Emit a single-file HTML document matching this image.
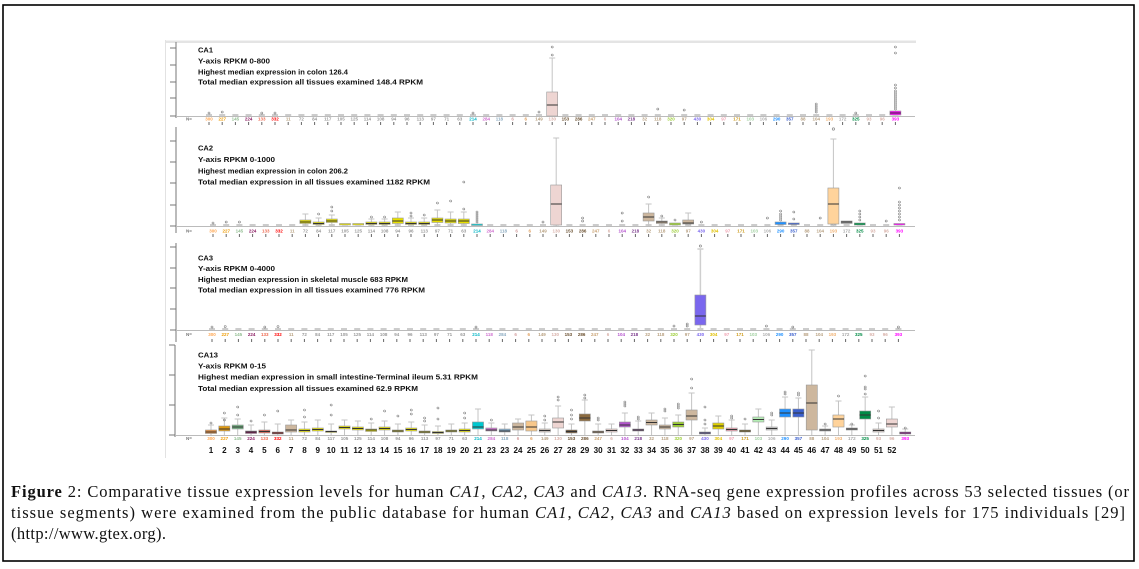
<!DOCTYPE html>
<html><head><meta charset="utf-8">
<style>
html,body{margin:0;padding:0;background:#fff;width:1139px;height:569px;overflow:hidden}
svg{display:block}
.t{font-family:"Liberation Sans",sans-serif;font-weight:bold;font-size:7.5px;fill:#111}
.n{font-family:"Liberation Sans",sans-serif;font-size:4.5px;text-anchor:middle;font-weight:bold}
.num{font-family:"Liberation Sans",sans-serif;font-weight:bold;font-size:8px;text-anchor:middle;fill:#111}
.cap{font-family:"Liberation Serif",serif;font-size:16.5px;fill:#111}
.w{stroke:#c4c4c4;stroke-width:1;fill:none}
.b{stroke:#999;stroke-width:0.6}
.m{stroke:#333;stroke-width:1}
.o{fill:none;stroke:#777;stroke-width:0.6}
.ax{stroke:#777;stroke-width:1;fill:none}
</style></head><body>
<svg width="1139" height="569" viewBox="0 0 1139 569" xmlns="http://www.w3.org/2000/svg">
<rect x="0" y="0" width="1139" height="569" fill="#fff"/>
<rect x="3" y="5" width="1131" height="556" fill="none" stroke="#000" stroke-width="1.6"/>

<!-- figure frame bits -->
<rect x="165" y="40.5" width="751" height="2.5" fill="#e4e4e4"/>
<line x1="165.5" y1="40" x2="165.5" y2="458" stroke="#e2e2e2" stroke-width="1"/>

<!-- ================= PANEL 1 CA1 ================= -->
<path class="ax" d="M176 42V118M170 48H176M170 65H176M170 82H176M170 98H176M170 116H176"/>
<line x1="176" y1="116.5" x2="915" y2="116.5" stroke="#bbb"/>
<line x1="206" y1="115" x2="900" y2="115" stroke="#999" stroke-dasharray="6 7.2"/>
<line x1="208.5" y1="123.5" x2="900" y2="123.5" stroke="#666" stroke-width="3" stroke-dasharray="1 12.2"/>
<text class="t" x="198" y="52.5" textLength="15" lengthAdjust="spacingAndGlyphs">CA1</text>
<text class="t" x="198" y="63.3" textLength="72" lengthAdjust="spacingAndGlyphs">Y-axis RPKM 0-800</text>
<text class="t" x="198" y="74.3" textLength="150" lengthAdjust="spacingAndGlyphs">Highest median expression in colon 126.4</text>
<text class="t" x="198" y="84.5" textLength="225" lengthAdjust="spacingAndGlyphs">Total median expression all tissues examined 148.4 RPKM</text>
<text class="n" x="189" y="120.5" fill="#777">N=</text>
<g transform="translate(209 0)">
<g transform="translate(343.2 0)"><path class="w" d="M0 58V116M-3 58H3"/><rect class="b" x="-5.5" y="92" width="11" height="24" fill="#EED5D2"/><path class="m" d="M-5.5 105H5.5" stroke="#7a5a50"/><circle class="o" cy="47" r="1"/><circle class="o" cy="55" r="1"/></g>
<g transform="translate(686.4 0)"><rect class="b" x="-5.5" y="111" width="11" height="4" fill="#FF00FF"/><path class="m" d="M-5.5 113H5.5"/>
<circle class="o" cy="47" r="1"/><circle class="o" cy="53" r="1"/><circle class="o" cy="85" r="1"/><circle class="o" cy="88" r="1"/><circle class="o" cy="91" r="1"/><circle class="o" cy="93" r="1"/><circle class="o" cy="95" r="1"/><circle class="o" cy="97" r="1"/><circle class="o" cy="99" r="1"/><circle class="o" cy="101" r="1"/><circle class="o" cy="103" r="1"/><circle class="o" cy="105" r="1"/><circle class="o" cy="107" r="1"/><circle class="o" cy="109" r="1"/></g>
<g transform="translate(607.2 0)"><circle class="o" cy="104" r="1"/><circle class="o" cy="106" r="1"/><circle class="o" cy="108" r="1"/><circle class="o" cy="110" r="1"/><circle class="o" cy="112" r="1"/></g>
<circle class="o" cx="0" cy="113" r="1"/><circle class="o" cx="13.2" cy="112" r="1"/><circle class="o" cx="52.8" cy="113" r="1"/><circle class="o" cx="66" cy="113" r="1"/><circle class="o" cx="264" cy="113" r="1"/><circle class="o" cx="330" cy="112" r="1"/><circle class="o" cx="448.8" cy="109" r="1"/><circle class="o" cx="475.2" cy="110" r="1"/><circle class="o" cx="646.8" cy="113" r="1"/>
<text class="n" y="120.5"><tspan x="0" fill="#FFA54F">300</tspan><tspan x="13.2" fill="#EE9A00">227</tspan><tspan x="26.4" fill="#8FBC8F">145</tspan><tspan x="39.6" fill="#8B1C62">224</tspan><tspan x="52.8" fill="#EE6A50">133</tspan><tspan x="66" fill="#FF0000">332</tspan><tspan x="79.2" fill="#B8A080">11</tspan><tspan x="92.4" fill="#999">72</tspan><tspan x="105.6" fill="#999">84</tspan><tspan x="118.8" fill="#999">117</tspan><tspan x="132" fill="#999">105</tspan><tspan x="145.2" fill="#999">125</tspan><tspan x="158.4" fill="#999">114</tspan><tspan x="171.6" fill="#999">108</tspan><tspan x="184.8" fill="#999">94</tspan><tspan x="198" fill="#999">96</tspan><tspan x="211.2" fill="#999">113</tspan><tspan x="224.4" fill="#999">97</tspan><tspan x="237.6" fill="#999">71</tspan><tspan x="250.8" fill="#999">63</tspan><tspan x="264" fill="#00B5C5">214</tspan><tspan x="277.2" fill="#D070D0">284</tspan><tspan x="290.4" fill="#8AAAC0">118</tspan><tspan x="303.6" fill="#D4A0A0">6</tspan><tspan x="316.8" fill="#E0A060">6</tspan><tspan x="330" fill="#B8A080">149</tspan><tspan x="343.2" fill="#D8B0A8">130</tspan><tspan x="356.4" fill="#6B5030">153</tspan><tspan x="369.6" fill="#6B5030">286</tspan><tspan x="382.8" fill="#C8A070">247</tspan><tspan x="396" fill="#D8B0A8">6</tspan><tspan x="409.2" fill="#B452CD">104</tspan><tspan x="422.4" fill="#7A378B">218</tspan><tspan x="435.6" fill="#B8A080">32</tspan><tspan x="448.8" fill="#B8A080">118</tspan><tspan x="462" fill="#9ACD32">320</tspan><tspan x="475.2" fill="#B8A080">97</tspan><tspan x="488.4" fill="#7A67EE">430</tspan><tspan x="501.6" fill="#E0C000">304</tspan><tspan x="514.8" fill="#F0A0B0">97</tspan><tspan x="528" fill="#CD9B1D">171</tspan><tspan x="541.2" fill="#A0D0A0">103</tspan><tspan x="554.4" fill="#B0B0B0">106</tspan><tspan x="567.6" fill="#1E90FF">290</tspan><tspan x="580.8" fill="#3A5FCD">357</tspan><tspan x="594" fill="#B8A080">88</tspan><tspan x="607.2" fill="#B8A080">104</tspan><tspan x="620.4" fill="#F0B070">193</tspan><tspan x="633.6" fill="#A6A6A6">172</tspan><tspan x="646.8" fill="#008B45">325</tspan><tspan x="660" fill="#D8B0A8">93</tspan><tspan x="673.2" fill="#D8B0A8">96</tspan><tspan x="686.4" fill="#FF00FF">393</tspan></text>
</g>

<!-- ================= PANEL 2 CA2 ================= -->
<path class="ax" d="M176 127V233M170 141H176M170 162H176M170 183H176M170 205H176M170 226H176"/>
<line x1="176" y1="226.5" x2="915" y2="226.5" stroke="#bbb"/>
<line x1="210" y1="225" x2="904" y2="225" stroke="#999" stroke-dasharray="6 7.2"/>
<line x1="212.5" y1="235.5" x2="904" y2="235.5" stroke="#666" stroke-width="3" stroke-dasharray="1 12.2"/>
<text class="t" x="198" y="150.5" textLength="15" lengthAdjust="spacingAndGlyphs">CA2</text>
<text class="t" x="198" y="162" textLength="77" lengthAdjust="spacingAndGlyphs">Y-axis RPKM 0-1000</text>
<text class="t" x="198" y="173.5" textLength="150" lengthAdjust="spacingAndGlyphs">Highest median expression in colon 206.2</text>
<text class="t" x="198" y="184.5" textLength="232" lengthAdjust="spacingAndGlyphs">Total median expression in all tissues examined 1182 RPKM</text>
<text class="n" x="189" y="232.5" fill="#777">N=</text>
<g transform="translate(213 0)">
<g transform="translate(92.4 0)"><path class="w" d="M0 214V226M-3 214H3"/><rect class="b" x="-5.5" y="220" width="11" height="3.5" fill="#E8E000"/><path class="m" d="M-5.5 222H5.5"/></g>
<g transform="translate(105.6 0)"><path class="w" d="M0 218V226M-3 218H3"/><rect class="b" x="-5.5" y="222" width="11" height="2.5" fill="#E8E000"/><path class="m" d="M-5.5 223.5H5.5"/><circle class="o" cy="214" r="1"/></g>
<g transform="translate(118.8 0)"><path class="w" d="M0 215V226M-3 215H3"/><rect class="b" x="-5.5" y="219" width="11" height="3.5" fill="#E8E000"/><path class="m" d="M-5.5 221H5.5"/><circle class="o" cy="211" r="1"/><circle class="o" cy="207" r="1"/></g>
<g transform="translate(132 0)"><rect class="b" x="-5.5" y="223.5" width="11" height="1.5" fill="#E8E000"/></g>
<g transform="translate(145.2 0)"><rect class="b" x="-5.5" y="223.5" width="11" height="1.5" fill="#E8E000"/></g>
<g transform="translate(158.4 0)"><path class="w" d="M0 219V226M-3 219H3"/><rect class="b" x="-5.5" y="222" width="11" height="2.5" fill="#E8E000"/><path class="m" d="M-5.5 223.5H5.5"/><circle class="o" cy="217" r="1"/></g>
<g transform="translate(171.6 0)"><path class="w" d="M0 219V226M-3 219H3"/><rect class="b" x="-5.5" y="222" width="11" height="2.5" fill="#E8E000"/><path class="m" d="M-5.5 223.5H5.5"/><circle class="o" cy="217" r="1"/></g>
<g transform="translate(184.8 0)"><path class="w" d="M0 212V226M-3 212H3"/><rect class="b" x="-5.5" y="218" width="11" height="5.5" fill="#E8E000"/><path class="m" d="M-5.5 221H5.5"/></g>
<g transform="translate(198 0)"><path class="w" d="M0 218V226M-3 218H3"/><rect class="b" x="-5.5" y="222" width="11" height="2.5" fill="#E8E000"/><path class="m" d="M-5.5 223.5H5.5"/><circle class="o" cy="213" r="1"/><circle class="o" cy="216" r="1"/></g>
<g transform="translate(211.2 0)"><path class="w" d="M0 218V226M-3 218H3"/><rect class="b" x="-5.5" y="222" width="11" height="2.5" fill="#E8E000"/><path class="m" d="M-5.5 223.5H5.5"/><circle class="o" cy="215" r="1"/></g>
<g transform="translate(224.4 0)"><path class="w" d="M0 210V226M-3 210H3"/><rect class="b" x="-5.5" y="218" width="11" height="4.5" fill="#E8E000"/><path class="m" d="M-5.5 220H5.5"/><circle class="o" cy="203" r="1"/></g>
<g transform="translate(237.6 0)"><path class="w" d="M0 212V226M-3 212H3"/><rect class="b" x="-5.5" y="219" width="11" height="4" fill="#E8E000"/><path class="m" d="M-5.5 221H5.5"/><circle class="o" cy="201" r="1"/></g>
<g transform="translate(250.8 0)"><path class="w" d="M0 212V226M-3 212H3"/><rect class="b" x="-5.5" y="219" width="11" height="4.5" fill="#E8E000"/><path class="m" d="M-5.5 221H5.5"/><circle class="o" cy="209" r="1"/><circle class="o" cy="182" r="1"/></g>
<g transform="translate(264 0)"><rect class="b" x="-5.5" y="224" width="11" height="1.5" fill="#00C8D0"/><circle class="o" cy="212" r="1"/><circle class="o" cy="214" r="1"/><circle class="o" cy="216" r="1"/><circle class="o" cy="218" r="1"/><circle class="o" cy="220" r="1"/><circle class="o" cy="222" r="1"/></g>
<g transform="translate(343.2 0)"><path class="w" d="M0 138V226M-3 138H3"/><rect class="b" x="-5.5" y="185" width="11" height="40" fill="#EED5D2"/><path class="m" d="M-5.5 204H5.5" stroke="#7a5a50"/></g>
<g transform="translate(435.6 0)"><path class="w" d="M0 204V226M-3 204H3"/><rect class="b" x="-5.5" y="213" width="11" height="8" fill="#CDB79E"/><path class="m" d="M-5.5 217H5.5"/><circle class="o" cy="197" r="1"/></g>
<g transform="translate(448.8 0)"><path class="w" d="M0 218V226M-3 218H3"/><rect class="b" x="-5.5" y="221" width="11" height="2.5" fill="#CDB79E"/><path class="m" d="M-5.5 222H5.5"/><circle class="o" cy="216" r="1"/></g>
<g transform="translate(462 0)"><rect class="b" x="-5.5" y="223" width="11" height="2" fill="#9ACD32"/><circle class="o" cy="220" r="1"/></g>
<g transform="translate(475.2 0)"><path class="w" d="M0 213V226M-3 213H3"/><rect class="b" x="-5.5" y="220" width="11" height="4" fill="#CDB79E"/><path class="m" d="M-5.5 223H5.5"/></g>
<g transform="translate(567.6 0)"><rect class="b" x="-5.5" y="222" width="11" height="2.5" fill="#1E90FF"/><circle class="o" cy="211" r="1"/><circle class="o" cy="214" r="1"/><circle class="o" cy="216" r="1"/><circle class="o" cy="218" r="1"/><circle class="o" cy="220" r="1"/></g>
<g transform="translate(580.8 0)"><rect class="b" x="-5.5" y="223" width="11" height="1.5" fill="#3A5FCD"/><circle class="o" cy="212" r="1"/><circle class="o" cy="219" r="1"/></g>
<g transform="translate(620.4 0)"><path class="w" d="M0 139V226M-3 139H3"/><rect class="b" x="-5.5" y="188" width="11" height="36" fill="#FFD39B"/><path class="m" d="M-5.5 204H5.5"/><circle class="o" cy="129" r="1.2"/></g>
<g transform="translate(633.6 0)"><rect class="b" x="-5.5" y="221" width="11" height="2.5" fill="#A6A6A6"/><path class="m" d="M-5.5 222H5.5"/></g>
<g transform="translate(646.8 0)"><rect class="b" x="-5.5" y="223" width="11" height="2" fill="#008B45"/><circle class="o" cy="211" r="1"/><circle class="o" cy="214" r="1"/><circle class="o" cy="217" r="1"/><circle class="o" cy="220" r="1"/></g>
<g transform="translate(686.4 0)"><rect class="b" x="-5.5" y="223.5" width="11" height="1.5" fill="#FF00FF"/><circle class="o" cy="188" r="1"/><circle class="o" cy="202" r="1"/><circle class="o" cy="205" r="1"/><circle class="o" cy="208" r="1"/><circle class="o" cy="211" r="1"/><circle class="o" cy="214" r="1"/><circle class="o" cy="217" r="1"/><circle class="o" cy="220" r="1"/></g>
<circle class="o" cx="0" cy="223" r="1"/><circle class="o" cx="13.2" cy="222" r="1"/><circle class="o" cx="26.4" cy="222" r="1"/><circle class="o" cx="330" cy="222" r="1"/><circle class="o" cx="369.6" cy="218" r="1"/><circle class="o" cx="369.6" cy="221" r="1"/><circle class="o" cx="409.2" cy="213" r="1"/><circle class="o" cx="409.2" cy="221" r="1"/><circle class="o" cx="488.4" cy="222" r="1"/><circle class="o" cx="554.4" cy="218" r="1"/><circle class="o" cx="607.2" cy="218" r="1"/><circle class="o" cx="673.2" cy="221" r="1"/>
<text class="n" y="232.5"><tspan x="0" fill="#FFA54F">300</tspan><tspan x="13.2" fill="#EE9A00">227</tspan><tspan x="26.4" fill="#8FBC8F">145</tspan><tspan x="39.6" fill="#8B1C62">224</tspan><tspan x="52.8" fill="#EE6A50">133</tspan><tspan x="66" fill="#FF0000">332</tspan><tspan x="79.2" fill="#B8A080">11</tspan><tspan x="92.4" fill="#999">72</tspan><tspan x="105.6" fill="#999">84</tspan><tspan x="118.8" fill="#999">117</tspan><tspan x="132" fill="#999">105</tspan><tspan x="145.2" fill="#999">125</tspan><tspan x="158.4" fill="#999">114</tspan><tspan x="171.6" fill="#999">108</tspan><tspan x="184.8" fill="#999">94</tspan><tspan x="198" fill="#999">96</tspan><tspan x="211.2" fill="#999">113</tspan><tspan x="224.4" fill="#999">97</tspan><tspan x="237.6" fill="#999">71</tspan><tspan x="250.8" fill="#999">63</tspan><tspan x="264" fill="#00B5C5">214</tspan><tspan x="277.2" fill="#D070D0">284</tspan><tspan x="290.4" fill="#8AAAC0">118</tspan><tspan x="303.6" fill="#D4A0A0">6</tspan><tspan x="316.8" fill="#E0A060">6</tspan><tspan x="330" fill="#B8A080">149</tspan><tspan x="343.2" fill="#D8B0A8">130</tspan><tspan x="356.4" fill="#6B5030">153</tspan><tspan x="369.6" fill="#6B5030">286</tspan><tspan x="382.8" fill="#C8A070">247</tspan><tspan x="396" fill="#D8B0A8">6</tspan><tspan x="409.2" fill="#B452CD">104</tspan><tspan x="422.4" fill="#7A378B">218</tspan><tspan x="435.6" fill="#B8A080">32</tspan><tspan x="448.8" fill="#B8A080">118</tspan><tspan x="462" fill="#9ACD32">320</tspan><tspan x="475.2" fill="#B8A080">97</tspan><tspan x="488.4" fill="#7A67EE">430</tspan><tspan x="501.6" fill="#E0C000">304</tspan><tspan x="514.8" fill="#F0A0B0">97</tspan><tspan x="528" fill="#CD9B1D">171</tspan><tspan x="541.2" fill="#A0D0A0">103</tspan><tspan x="554.4" fill="#B0B0B0">106</tspan><tspan x="567.6" fill="#1E90FF">290</tspan><tspan x="580.8" fill="#3A5FCD">357</tspan><tspan x="594" fill="#B8A080">88</tspan><tspan x="607.2" fill="#B8A080">104</tspan><tspan x="620.4" fill="#F0B070">193</tspan><tspan x="633.6" fill="#A6A6A6">172</tspan><tspan x="646.8" fill="#008B45">325</tspan><tspan x="660" fill="#D8B0A8">93</tspan><tspan x="673.2" fill="#D8B0A8">96</tspan><tspan x="686.4" fill="#FF00FF">393</tspan></text>
</g>

<!-- ================= PANEL 3 CA3 ================= -->
<path class="ax" d="M176 243V342M170 247H176M170 268H176M170 288H176M170 309H176M170 330H176"/>
<line x1="176" y1="330.5" x2="915" y2="330.5" stroke="#bbb"/>
<line x1="209" y1="329" x2="903" y2="329" stroke="#999" stroke-dasharray="6 7.2"/>
<line x1="211.5" y1="340.5" x2="903" y2="340.5" stroke="#666" stroke-width="3" stroke-dasharray="1 12.2"/>
<text class="t" x="198" y="260.5" textLength="15" lengthAdjust="spacingAndGlyphs">CA3</text>
<text class="t" x="198" y="271" textLength="77" lengthAdjust="spacingAndGlyphs">Y-axis RPKM 0-4000</text>
<text class="t" x="198" y="282" textLength="210" lengthAdjust="spacingAndGlyphs">Highest median expression in skeletal muscle 683 RPKM</text>
<text class="t" x="198" y="292.5" textLength="227" lengthAdjust="spacingAndGlyphs">Total median expression in all tissues examined 776 RPKM</text>
<text class="n" x="189" y="336" fill="#777">N=</text>
<g transform="translate(212 0)">
<g transform="translate(488.4 0)"><path d="M0 249V330M-3 249H3" stroke="#cfcfcf" stroke-width="1.5" fill="none"/><rect class="b" x="-5.5" y="295" width="11" height="30" fill="#7A67EE"/><path class="m" d="M-5.5 316H5.5" stroke="#222"/><circle class="o" cy="246" r="1.1"/></g>
<circle class="o" cx="0" cy="327" r="1"/><circle class="o" cx="13.2" cy="326.5" r="1"/><circle class="o" cx="52.8" cy="327" r="1"/><circle class="o" cx="66" cy="326.5" r="1"/><circle class="o" cx="264" cy="327" r="1"/><circle class="o" cx="462" cy="326" r="1"/><circle class="o" cx="475.2" cy="326" r="1"/><circle class="o" cx="475.2" cy="324" r="1"/><circle class="o" cx="554.4" cy="326" r="1"/><circle class="o" cx="580.8" cy="327" r="1"/><circle class="o" cx="686.4" cy="327" r="1"/>
<text class="n" y="336"><tspan x="0" fill="#FFA54F">300</tspan><tspan x="13.2" fill="#EE9A00">227</tspan><tspan x="26.4" fill="#8FBC8F">145</tspan><tspan x="39.6" fill="#8B1C62">224</tspan><tspan x="52.8" fill="#EE6A50">133</tspan><tspan x="66" fill="#FF0000">332</tspan><tspan x="79.2" fill="#B8A080">11</tspan><tspan x="92.4" fill="#999">72</tspan><tspan x="105.6" fill="#999">84</tspan><tspan x="118.8" fill="#999">117</tspan><tspan x="132" fill="#999">105</tspan><tspan x="145.2" fill="#999">125</tspan><tspan x="158.4" fill="#999">114</tspan><tspan x="171.6" fill="#999">108</tspan><tspan x="184.8" fill="#999">94</tspan><tspan x="198" fill="#999">96</tspan><tspan x="211.2" fill="#999">113</tspan><tspan x="224.4" fill="#999">97</tspan><tspan x="237.6" fill="#999">71</tspan><tspan x="250.8" fill="#999">63</tspan><tspan x="264" fill="#00B5C5">214</tspan><tspan x="277.2" fill="#D070D0">118</tspan><tspan x="290.4" fill="#8AAAC0">284</tspan><tspan x="303.6" fill="#D4A0A0">6</tspan><tspan x="316.8" fill="#E0A060">6</tspan><tspan x="330" fill="#B8A080">149</tspan><tspan x="343.2" fill="#D8B0A8">130</tspan><tspan x="356.4" fill="#6B5030">153</tspan><tspan x="369.6" fill="#6B5030">286</tspan><tspan x="382.8" fill="#C8A070">247</tspan><tspan x="396" fill="#D8B0A8">6</tspan><tspan x="409.2" fill="#B452CD">104</tspan><tspan x="422.4" fill="#7A378B">218</tspan><tspan x="435.6" fill="#B8A080">32</tspan><tspan x="448.8" fill="#B8A080">118</tspan><tspan x="462" fill="#9ACD32">320</tspan><tspan x="475.2" fill="#B8A080">97</tspan><tspan x="488.4" fill="#7A67EE">430</tspan><tspan x="501.6" fill="#E0C000">304</tspan><tspan x="514.8" fill="#F0A0B0">97</tspan><tspan x="528" fill="#CD9B1D">171</tspan><tspan x="541.2" fill="#A0D0A0">103</tspan><tspan x="554.4" fill="#B0B0B0">106</tspan><tspan x="567.6" fill="#1E90FF">290</tspan><tspan x="580.8" fill="#3A5FCD">357</tspan><tspan x="594" fill="#B8A080">88</tspan><tspan x="607.2" fill="#B8A080">104</tspan><tspan x="620.4" fill="#F0B070">193</tspan><tspan x="633.6" fill="#A6A6A6">172</tspan><tspan x="646.8" fill="#008B45">325</tspan><tspan x="660" fill="#D8B0A8">93</tspan><tspan x="673.2" fill="#D8B0A8">96</tspan><tspan x="686.4" fill="#FF00FF">393</tspan></text>
</g>

<!-- ================= PANEL 4 CA13 ================= -->
<path class="ax" d="M175 345V437M169 345H175M169 375H175M169 405H175M169 435H175"/>
<line x1="175" y1="435.5" x2="915" y2="435.5" stroke="#bbb"/>
<text class="t" x="198" y="357.5" textLength="20" lengthAdjust="spacingAndGlyphs">CA13</text>
<text class="t" x="198" y="368.5" textLength="68" lengthAdjust="spacingAndGlyphs">Y-axis RPKM 0-15</text>
<text class="t" x="198" y="379.5" textLength="280" lengthAdjust="spacingAndGlyphs">Highest median expression in small intestine-Terminal ileum 5.31 RPKM</text>
<text class="t" x="198" y="391" textLength="220" lengthAdjust="spacingAndGlyphs">Total median expression all tissues examined 62.9 RPKM</text>
<text class="n" x="189" y="440" fill="#777">N=</text>
<g transform="translate(211 0) scale(1.0114 1)">
<g transform="translate(0 0)"><path class="w" d="M0 425V435M-3 425H3"/><rect class="b" x="-5.5" y="430" width="11" height="3.5" fill="#E89040"/><path class="m" d="M-5.5 432H5.5"/><circle class="o" cy="423" r="1"/></g>
<g transform="translate(13.2 0)"><path class="w" d="M0 418V435M-3 418H3"/><rect class="b" x="-5.5" y="426" width="11" height="5" fill="#E09A10"/><path class="m" d="M-5.5 429H5.5"/><circle class="o" cy="413" r="1"/><circle class="o" cy="420" r="1"/></g>
<g transform="translate(26.4 0)"><path class="w" d="M0 419V435M-3 419H3"/><rect class="b" x="-5.5" y="425" width="11" height="4" fill="#6FB07F"/><path class="m" d="M-5.5 427H5.5"/><circle class="o" cy="407" r="1"/><circle class="o" cy="415" r="1"/></g>
<g transform="translate(39.6 0)"><path class="w" d="M0 425V435M-3 425H3"/><rect class="b" x="-5.5" y="431" width="11" height="2.5" fill="#8B1C62"/><path class="m" d="M-5.5 432H5.5"/><circle class="o" cy="421" r="1"/></g>
<g transform="translate(52.8 0)"><path class="w" d="M0 422V435M-3 422H3"/><rect class="b" x="-5.5" y="430" width="11" height="3" fill="#E06050"/><path class="m" d="M-5.5 431.5H5.5"/><circle class="o" cy="415" r="1"/></g>
<g transform="translate(66 0)"><path class="w" d="M0 424V435M-3 424H3"/><rect class="b" x="-5.5" y="432" width="11" height="2" fill="#E01010"/><path class="m" d="M-5.5 433H5.5"/><circle class="o" cy="411" r="1"/></g>
<g transform="translate(79.2 0)"><path class="w" d="M0 420V435M-3 420H3"/><rect class="b" x="-5.5" y="425" width="11" height="7" fill="#CDB79E"/><path class="m" d="M-5.5 430H5.5"/></g>
<g transform="translate(92.4 0)"><path class="w" d="M0 422V435M-3 422H3"/><rect class="b" x="-5.5" y="429" width="11" height="3" fill="#E8E000"/><path class="m" d="M-5.5 430.5H5.5"/><circle class="o" cy="410" r="1"/><circle class="o" cy="417" r="1"/></g>
<g transform="translate(105.6 0)"><path class="w" d="M0 420V435M-3 420H3"/><rect class="b" x="-5.5" y="428" width="11" height="3" fill="#E8E000"/><path class="m" d="M-5.5 429.5H5.5"/></g>
<g transform="translate(118.8 0)"><path class="w" d="M0 424V435M-3 424H3"/><rect class="b" x="-5.5" y="431" width="11" height="1.5" fill="#E8E000"/><path class="m" d="M-5.5 431.5H5.5"/><circle class="o" cy="405" r="1"/><circle class="o" cy="415" r="1"/></g>
<g transform="translate(132 0)"><path class="w" d="M0 420V435M-3 420H3"/><rect class="b" x="-5.5" y="426" width="11" height="3" fill="#E8E000"/><path class="m" d="M-5.5 427.5H5.5"/></g>
<g transform="translate(145.2 0)"><path class="w" d="M0 421V435M-3 421H3"/><rect class="b" x="-5.5" y="427" width="11" height="3" fill="#E8E000"/><path class="m" d="M-5.5 428.5H5.5"/></g>
<g transform="translate(158.4 0)"><path class="w" d="M0 423V435M-3 423H3"/><rect class="b" x="-5.5" y="429" width="11" height="2.5" fill="#E8E000"/><path class="m" d="M-5.5 430H5.5"/><circle class="o" cy="419" r="1"/></g>
<g transform="translate(171.6 0)"><path class="w" d="M0 421V435M-3 421H3"/><rect class="b" x="-5.5" y="427" width="11" height="3" fill="#E8E000"/><path class="m" d="M-5.5 428.5H5.5"/><circle class="o" cy="411" r="1"/></g>
<g transform="translate(184.8 0)"><path class="w" d="M0 424V435M-3 424H3"/><rect class="b" x="-5.5" y="430" width="11" height="2" fill="#E8E000"/><path class="m" d="M-5.5 431H5.5"/><circle class="o" cy="416" r="1"/></g>
<g transform="translate(198 0)"><path class="w" d="M0 422V435M-3 422H3"/><rect class="b" x="-5.5" y="428" width="11" height="3" fill="#E8E000"/><path class="m" d="M-5.5 429.5H5.5"/><circle class="o" cy="410" r="1"/><circle class="o" cy="414" r="1"/></g>
<g transform="translate(211.2 0)"><path class="w" d="M0 425V435M-3 425H3"/><rect class="b" x="-5.5" y="431" width="11" height="2" fill="#E8E000"/><path class="m" d="M-5.5 432H5.5"/><circle class="o" cy="418" r="1"/><circle class="o" cy="421" r="1"/></g>
<g transform="translate(224.4 0)"><path class="w" d="M0 426V435M-3 426H3"/><rect class="b" x="-5.5" y="431.5" width="11" height="2" fill="#E8E000"/><path class="m" d="M-5.5 432.5H5.5"/><circle class="o" cy="408" r="1"/><circle class="o" cy="419" r="1"/></g>
<g transform="translate(237.6 0)"><path class="w" d="M0 424V435M-3 424H3"/><rect class="b" x="-5.5" y="430" width="11" height="2" fill="#E8E000"/><path class="m" d="M-5.5 431H5.5"/></g>
<g transform="translate(250.8 0)"><path class="w" d="M0 423V435M-3 423H3"/><rect class="b" x="-5.5" y="429" width="11" height="3" fill="#E8E000"/><path class="m" d="M-5.5 430.5H5.5"/><circle class="o" cy="413" r="1"/><circle class="o" cy="418" r="1"/></g>
<g transform="translate(264 0)"><path class="w" d="M0 409V435M-3 409H3"/><rect class="b" x="-5.5" y="422" width="11" height="7" fill="#00C8D0"/><path class="m" d="M-5.5 427H5.5"/></g>
<g transform="translate(277.2 0)"><path class="w" d="M0 423V435M-3 423H3"/><rect class="b" x="-5.5" y="428" width="11" height="3" fill="#D070D0"/><path class="m" d="M-5.5 430H5.5"/><circle class="o" cy="420" r="1"/></g>
<g transform="translate(290.4 0)"><path class="w" d="M0 424V435M-3 424H3"/><rect class="b" x="-5.5" y="429" width="11" height="3" fill="#7FA8C8"/><path class="m" d="M-5.5 431H5.5"/></g>
<g transform="translate(303.6 0)"><path class="w" d="M0 419V435M-3 419H3"/><rect class="b" x="-5.5" y="423" width="11" height="7" fill="#CDB79E"/><path class="m" d="M-5.5 427H5.5"/></g>
<g transform="translate(316.8 0)"><path class="w" d="M0 415V435M-3 415H3"/><rect class="b" x="-5.5" y="421" width="11" height="10" fill="#F7C78A"/><path class="m" d="M-5.5 427H5.5"/></g>
<g transform="translate(330 0)"><path class="w" d="M0 423V435M-3 423H3"/><rect class="b" x="-5.5" y="429" width="11" height="3" fill="#D8CCC4"/><path class="m" d="M-5.5 430.5H5.5"/><circle class="o" cy="416" r="1"/><circle class="o" cy="420" r="1"/></g>
<g transform="translate(343.2 0)"><path class="w" d="M0 406V435M-3 406H3"/><rect class="b" x="-5.5" y="418" width="11" height="10" fill="#EED5D2"/><path class="m" d="M-5.5 422H5.5"/><circle class="o" cy="397" r="1"/><circle class="o" cy="400" r="1"/></g>
<g transform="translate(356.4 0)"><path class="w" d="M0 424V435M-3 424H3"/><rect class="b" x="-5.5" y="430" width="11" height="3" fill="#6B5030"/><path class="m" d="M-5.5 431.5H5.5"/><circle class="o" cy="410" r="1"/><circle class="o" cy="415" r="1"/><circle class="o" cy="419" r="1"/></g>
<g transform="translate(369.6 0)"><path class="w" d="M0 400V435M-3 400H3"/><rect class="b" x="-5.5" y="414" width="11" height="7" fill="#8B6A3E"/><path class="m" d="M-5.5 418H5.5"/><circle class="o" cy="395" r="1"/><circle class="o" cy="398" r="1"/></g>
<g transform="translate(382.8 0)"><path class="w" d="M0 424V435M-3 424H3"/><rect class="b" x="-5.5" y="431" width="11" height="2" fill="#C8A070"/><path class="m" d="M-5.5 432H5.5"/><circle class="o" cy="418" r="1"/><circle class="o" cy="420" r="1"/></g>
<g transform="translate(396 0)"><path class="w" d="M0 424V435M-3 424H3"/><rect class="b" x="-5.5" y="429" width="11" height="3" fill="#EED5D2"/><path class="m" d="M-5.5 430.5H5.5"/></g>
<g transform="translate(409.2 0)"><path class="w" d="M0 413V435M-3 413H3"/><rect class="b" x="-5.5" y="422" width="11" height="5" fill="#B452CD"/><path class="m" d="M-5.5 425H5.5"/><circle class="o" cy="402" r="1"/><circle class="o" cy="404" r="1"/><circle class="o" cy="406" r="1"/></g>
<g transform="translate(422.4 0)"><path class="w" d="M0 421V435M-3 421H3"/><rect class="b" x="-5.5" y="429" width="11" height="2" fill="#7A378B"/><path class="m" d="M-5.5 430H5.5"/><circle class="o" cy="417" r="1"/><circle class="o" cy="419" r="1"/></g>
<g transform="translate(435.6 0)"><path class="w" d="M0 413V435M-3 413H3"/><rect class="b" x="-5.5" y="420" width="11" height="5" fill="#CDB79E"/><path class="m" d="M-5.5 422.5H5.5"/></g>
<g transform="translate(448.8 0)"><path class="w" d="M0 418V435M-3 418H3"/><rect class="b" x="-5.5" y="425" width="11" height="4" fill="#CDB79E"/><path class="m" d="M-5.5 427H5.5"/><circle class="o" cy="409" r="1"/><circle class="o" cy="411" r="1"/></g>
<g transform="translate(462 0)"><path class="w" d="M0 415V435M-3 415H3"/><rect class="b" x="-5.5" y="422" width="11" height="5" fill="#9ACD32"/><path class="m" d="M-5.5 424.5H5.5"/><circle class="o" cy="404" r="1"/><circle class="o" cy="406" r="1"/><circle class="o" cy="408" r="1"/></g>
<g transform="translate(475.2 0)"><path class="w" d="M0 393V435M-3 393H3"/><rect class="b" x="-5.5" y="410" width="11" height="10" fill="#CDB79E"/><path class="m" d="M-5.5 416H5.5"/><circle class="o" cy="379" r="1"/><circle class="o" cy="388" r="1"/></g>
<g transform="translate(488.4 0)"><path class="w" d="M0 428V435M-3 428H3"/><rect class="b" x="-5.5" y="432" width="11" height="2" fill="#7A67EE"/><path class="m" d="M-5.5 433H5.5"/><circle class="o" cy="407" r="1"/><circle class="o" cy="420" r="1"/><circle class="o" cy="424" r="1"/></g>
<g transform="translate(501.6 0)"><path class="w" d="M0 416V435M-3 416H3"/><rect class="b" x="-5.5" y="423" width="11" height="6" fill="#E0D000"/><path class="m" d="M-5.5 426H5.5"/></g>
<g transform="translate(514.8 0)"><path class="w" d="M0 420V435M-3 420H3"/><rect class="b" x="-5.5" y="428" width="11" height="3" fill="#F0A0B0"/><path class="m" d="M-5.5 429.5H5.5"/><circle class="o" cy="416" r="1"/><circle class="o" cy="418" r="1"/></g>
<g transform="translate(528 0)"><path class="w" d="M0 424V435M-3 424H3"/><rect class="b" x="-5.5" y="430" width="11" height="2" fill="#C09000"/><path class="m" d="M-5.5 431H5.5"/><circle class="o" cy="419" r="1"/></g>
<g transform="translate(541.2 0)"><path class="w" d="M0 409V435M-3 409H3"/><rect class="b" x="-5.5" y="417" width="11" height="5" fill="#B4EEB4"/><path class="m" d="M-5.5 419.5H5.5"/></g>
<g transform="translate(554.4 0)"><path class="w" d="M0 420V435M-3 420H3"/><rect class="b" x="-5.5" y="427" width="11" height="3" fill="#C8C8C8"/><path class="m" d="M-5.5 428.5H5.5"/><circle class="o" cy="413" r="1"/><circle class="o" cy="415" r="1"/></g>
<g transform="translate(567.6 0)"><path class="w" d="M0 397V435M-3 397H3"/><rect class="b" x="-5.5" y="409" width="11" height="8" fill="#1E90FF"/><path class="m" d="M-5.5 413H5.5"/><circle class="o" cy="392" r="1"/><circle class="o" cy="394" r="1"/></g>
<g transform="translate(580.8 0)"><path class="w" d="M0 398V435M-3 398H3"/><rect class="b" x="-5.5" y="409" width="11" height="8" fill="#3A5FCD"/><path class="m" d="M-5.5 413H5.5"/><circle class="o" cy="393" r="1"/><circle class="o" cy="395" r="1"/></g>
<g transform="translate(594 0)"><path class="w" d="M0 350V435M-3 350H3"/><rect class="b" x="-5.5" y="385" width="11" height="45" fill="#CDB79E"/><path class="m" d="M-5.5 403H5.5"/></g>
<g transform="translate(607.2 0)"><path class="w" d="M0 426V435M-3 426H3"/><rect class="b" x="-5.5" y="429" width="11" height="2" fill="#BBBBBB"/><path class="m" d="M-5.5 430H5.5"/><circle class="o" cy="424" r="1"/></g>
<g transform="translate(620.4 0)"><path class="w" d="M0 401V435M-3 401H3"/><rect class="b" x="-5.5" y="415" width="11" height="12" fill="#FFD39B"/><path class="m" d="M-5.5 419H5.5"/><circle class="o" cy="396" r="1"/></g>
<g transform="translate(633.6 0)"><path class="w" d="M0 425V435M-3 425H3"/><rect class="b" x="-5.5" y="428" width="11" height="2" fill="#A6A6A6"/><path class="m" d="M-5.5 429H5.5"/><circle class="o" cy="424" r="1"/></g>
<g transform="translate(646.8 0)"><path class="w" d="M0 397V435M-3 397H3"/><rect class="b" x="-5.5" y="411" width="11" height="8" fill="#008B45"/><path class="m" d="M-5.5 415H5.5"/><circle class="o" cy="376" r="1"/><circle class="o" cy="387" r="1"/><circle class="o" cy="389" r="1"/><circle class="o" cy="394" r="1"/></g>
<g transform="translate(660 0)"><path class="w" d="M0 423V435M-3 423H3"/><rect class="b" x="-5.5" y="429" width="11" height="3" fill="#DDD0CC"/><path class="m" d="M-5.5 430.5H5.5"/><circle class="o" cy="411" r="1"/><circle class="o" cy="418" r="1"/></g>
<g transform="translate(673.2 0)"><path class="w" d="M0 407V435M-3 407H3"/><rect class="b" x="-5.5" y="419" width="11" height="8" fill="#EED5D2"/><path class="m" d="M-5.5 424H5.5"/></g>
<g transform="translate(686.4 0)"><path class="w" d="M0 429V435M-3 429H3"/><rect class="b" x="-5.5" y="432" width="11" height="2" fill="#FF00FF"/><path class="m" d="M-5.5 433H5.5"/><circle class="o" cy="428" r="1"/></g>
<text class="n" y="440"><tspan x="0" fill="#FFA54F">300</tspan><tspan x="13.2" fill="#EE9A00">227</tspan><tspan x="26.4" fill="#8FBC8F">145</tspan><tspan x="39.6" fill="#8B1C62">224</tspan><tspan x="52.8" fill="#EE6A50">133</tspan><tspan x="66" fill="#FF0000">332</tspan><tspan x="79.2" fill="#B8A080">11</tspan><tspan x="92.4" fill="#999">72</tspan><tspan x="105.6" fill="#999">84</tspan><tspan x="118.8" fill="#999">117</tspan><tspan x="132" fill="#999">105</tspan><tspan x="145.2" fill="#999">125</tspan><tspan x="158.4" fill="#999">114</tspan><tspan x="171.6" fill="#999">108</tspan><tspan x="184.8" fill="#999">94</tspan><tspan x="198" fill="#999">96</tspan><tspan x="211.2" fill="#999">113</tspan><tspan x="224.4" fill="#999">97</tspan><tspan x="237.6" fill="#999">71</tspan><tspan x="250.8" fill="#999">63</tspan><tspan x="264" fill="#00B5C5">214</tspan><tspan x="277.2" fill="#D070D0">284</tspan><tspan x="290.4" fill="#8AAAC0">118</tspan><tspan x="303.6" fill="#D4A0A0">6</tspan><tspan x="316.8" fill="#E0A060">6</tspan><tspan x="330" fill="#B8A080">149</tspan><tspan x="343.2" fill="#D8B0A8">130</tspan><tspan x="356.4" fill="#6B5030">153</tspan><tspan x="369.6" fill="#6B5030">286</tspan><tspan x="382.8" fill="#C8A070">247</tspan><tspan x="396" fill="#D8B0A8">6</tspan><tspan x="409.2" fill="#B452CD">104</tspan><tspan x="422.4" fill="#7A378B">218</tspan><tspan x="435.6" fill="#B8A080">32</tspan><tspan x="448.8" fill="#B8A080">118</tspan><tspan x="462" fill="#9ACD32">320</tspan><tspan x="475.2" fill="#B8A080">97</tspan><tspan x="488.4" fill="#7A67EE">430</tspan><tspan x="501.6" fill="#E0C000">304</tspan><tspan x="514.8" fill="#F0A0B0">97</tspan><tspan x="528" fill="#CD9B1D">171</tspan><tspan x="541.2" fill="#A0D0A0">103</tspan><tspan x="554.4" fill="#B0B0B0">106</tspan><tspan x="567.6" fill="#1E90FF">290</tspan><tspan x="580.8" fill="#3A5FCD">357</tspan><tspan x="594" fill="#B8A080">88</tspan><tspan x="607.2" fill="#B8A080">104</tspan><tspan x="620.4" fill="#F0B070">193</tspan><tspan x="633.6" fill="#A6A6A6">172</tspan><tspan x="646.8" fill="#008B45">325</tspan><tspan x="660" fill="#D8B0A8">93</tspan><tspan x="673.2" fill="#D8B0A8">96</tspan><tspan x="686.4" fill="#FF00FF">393</tspan></text>
<text class="num" y="453"><tspan x="0">1</tspan><tspan x="13.2">2</tspan><tspan x="26.4">3</tspan><tspan x="39.6">4</tspan><tspan x="52.8">5</tspan><tspan x="66">6</tspan><tspan x="79.2">7</tspan><tspan x="92.4">8</tspan><tspan x="105.6">9</tspan><tspan x="118.8">10</tspan><tspan x="132">11</tspan><tspan x="145.2">12</tspan><tspan x="158.4">13</tspan><tspan x="171.6">14</tspan><tspan x="184.8">15</tspan><tspan x="198">16</tspan><tspan x="211.2">17</tspan><tspan x="224.4">18</tspan><tspan x="237.6">19</tspan><tspan x="250.8">20</tspan><tspan x="264">21</tspan><tspan x="277.2">23</tspan><tspan x="290.4">23</tspan><tspan x="303.6">24</tspan><tspan x="316.8">25</tspan><tspan x="330">26</tspan><tspan x="343.2">27</tspan><tspan x="356.4">28</tspan><tspan x="369.6">29</tspan><tspan x="382.8">30</tspan><tspan x="396">31</tspan><tspan x="409.2">32</tspan><tspan x="422.4">33</tspan><tspan x="435.6">34</tspan><tspan x="448.8">35</tspan><tspan x="462">36</tspan><tspan x="475.2">37</tspan><tspan x="488.4">38</tspan><tspan x="501.6">39</tspan><tspan x="514.8">40</tspan><tspan x="528">41</tspan><tspan x="541.2">42</tspan><tspan x="554.4">43</tspan><tspan x="567.6">44</tspan><tspan x="580.8">45</tspan><tspan x="594">46</tspan><tspan x="607.2">47</tspan><tspan x="620.4">48</tspan><tspan x="633.6">49</tspan><tspan x="646.8">50</tspan><tspan x="660">51</tspan><tspan x="673.2">52</tspan></text>
</g>

<!-- ================= CAPTION ================= -->
<text class="cap" x="11" y="497" textLength="1118" lengthAdjust="spacing"><tspan font-weight="bold">Figure</tspan> 2: Comparative tissue expression levels for human <tspan font-style="italic">CA1</tspan>, <tspan font-style="italic">CA2</tspan>, <tspan font-style="italic">CA3</tspan> and <tspan font-style="italic">CA13</tspan>. RNA-seq gene expression profiles across 53 selected tissues (or</text>
<text class="cap" x="11" y="518" textLength="1114" lengthAdjust="spacing">tissue segments) were examined from the public database for human <tspan font-style="italic">CA1</tspan>, <tspan font-style="italic">CA2</tspan>, <tspan font-style="italic">CA3</tspan> and <tspan font-style="italic">CA13</tspan>  based on expression levels for 175 individuals [29]</text>
<text class="cap" x="11" y="539" textLength="155" lengthAdjust="spacing">(http://www.gtex.org).</text>
</svg>
</body></html>
